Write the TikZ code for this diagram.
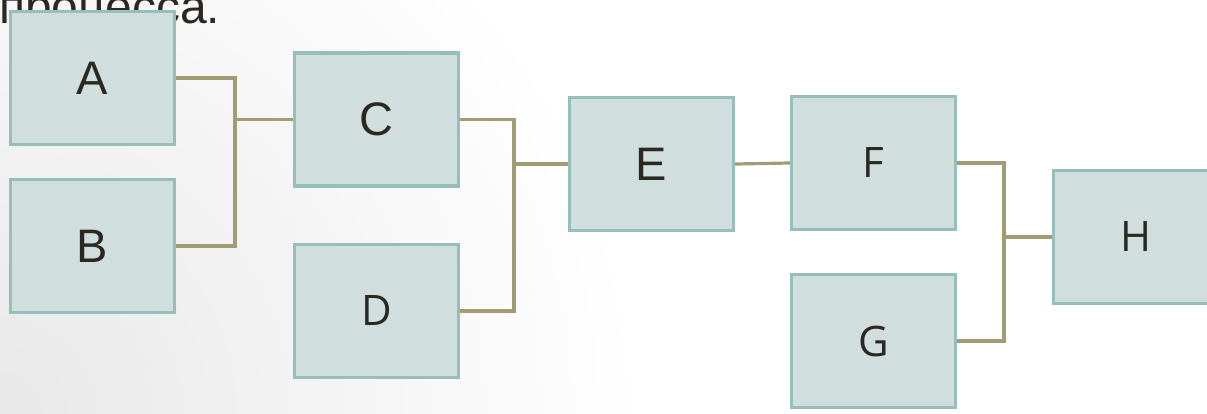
\documentclass[tikz,border=0pt]{standalone}
\usepackage{fontspec}
\setmainfont{Liberation Sans}
\newfontfamily\lettersans{Open Sans}
\definecolor{boxfill}{RGB}{208,222,222}
\definecolor{boxline}{RGB}{152,190,188}
\definecolor{linkcol}{RGB}{160,156,116}
\definecolor{inkcol}{RGB}{43,40,33}
\definecolor{shadecol}{RGB}{232,232,232}
\begin{document}
\begin{tikzpicture}[x=1pt,y=-1pt,
  stepbox/.style={draw=boxline, fill=boxfill, line width=3.2pt, rectangle,
    minimum width=164pt, minimum height=133pt, inner sep=0pt, text=inkcol},
  bigletter/.style={font=\fontsize{47}{47}\selectfont},
  smallletter/.style={font=\lettersans\fontsize{42}{42}\selectfont},
  link/.style={draw=linkcol, line width=3.2pt}]
\useasboundingbox (0,0) rectangle (1207,413);
\clip (0,0) rectangle (1207,413);
% soft grey glow in the lower left corner
\shade[inner color=shadecol, outer color=white] (0,413) circle (640);
% caption line running off the top
\node[anchor=base west, inner sep=0pt, text=inkcol,
  font=\fontsize{48}{48}\selectfont] (caption) at (-1,23) {процесса.};
% process boxes
\node[stepbox, bigletter]   (A) at (92.5,78)    {A};
\node[stepbox, bigletter]   (B) at (92.5,246)   {B};
\node[stepbox, bigletter]   (C) at (376.5,119.5){C};
\node[stepbox, smallletter] (D) at (376.5,311)  {D};
\node[stepbox, bigletter]   (E) at (651.5,164)  {E};
\node[stepbox, smallletter] (F) at (873.5,163)  {F};
\node[stepbox, smallletter] (G) at (873.5,341)  {G};
\node[stepbox, smallletter] (H) at (1135.5,237) {H};
% junction points of the brackets
\coordinate (j1) at (235,119.5);
\coordinate (j2) at (514,164);
\coordinate (j3) at (1004,237);
% connectors
\draw[link] (A.east) -| (j1) |- (B.east);
\draw[link] (j1) -- (C.west);
\draw[link] (C.east) -| (j2) |- (D.east);
\draw[link] (j2) -- (E.west);
\draw[link] (E.east) -- (F.west);
\draw[link] (F.east) -| (j3) |- (G.east);
\draw[link] (j3) -- (H.west);
\end{tikzpicture}
\end{document}
